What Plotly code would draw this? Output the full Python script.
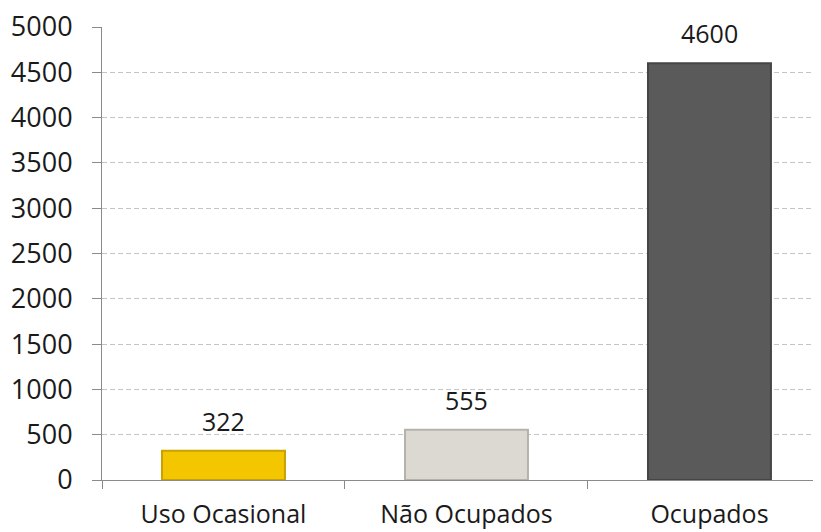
import plotly.graph_objects as go

categories = ["Uso Ocasional", "Não Ocupados", "Ocupados"]
values = [322, 555, 4600]
bar_colors = ["#f3c600", "#dcd9d3", "#5a5a5a"]
bar_edges = ["#c9a200", "#b5b2ab", "#454545"]
y_ticks = [0, 500, 1000, 1500, 2000, 2500, 3000, 3500, 4000, 4500, 5000]

FONT = "Open Sans, Noto Sans, sans-serif"

fig = go.Figure()
fig.add_trace(go.Bar(
    x=categories,
    y=values,
    width=0.506,
    marker=dict(color=bar_colors, line=dict(color=bar_edges, width=2)),
    showlegend=False,
    hoverinfo="x+y",
))

for c, v in zip(categories, values):
    fig.add_annotation(
        x=c, y=v, text=str(v), showarrow=False,
        yanchor="bottom", yshift=11,
        font=dict(family=FONT, size=25, color="#1a1a1a"),
    )

# page body has an 8px margin, so the figure is 8px smaller and margins shifted
fig.update_layout(
    width=813, height=524,
    margin=dict(l=94, r=0, t=19, b=52),
    paper_bgcolor="white",
    plot_bgcolor="white",
    font=dict(family=FONT, color="#1a1a1a"),
)

fig.update_xaxes(
    range=[-0.5, 2.459],
    showline=True, linecolor="#8a8a8a", linewidth=1,
    ticks="outside", tickson="boundaries", ticklen=8, tickcolor="#8a8a8a",
    tickfont=dict(family=FONT, size=25, color="#1a1a1a"),
    showgrid=False,
    ticklabelstandoff=12,
    ticklabeloverflow="allow",
    automargin=False,
)

fig.update_yaxes(
    range=[0, 5000],
    tickvals=y_ticks,
    ticktext=[str(t) for t in y_ticks],
    showline=True, linecolor="#8a8a8a", linewidth=1,
    ticks="outside", ticklen=9, tickcolor="#8a8a8a",
    tickfont=dict(family=FONT, size=27, color="#1a1a1a"),
    showgrid=True, gridcolor="#c4c4c4", gridwidth=1, griddash="5px,3px",
    zeroline=False,
    ticklabelstandoff=14,
    ticklabeloverflow="allow",
    automargin=False,
)

fig.write_html("out.html")
